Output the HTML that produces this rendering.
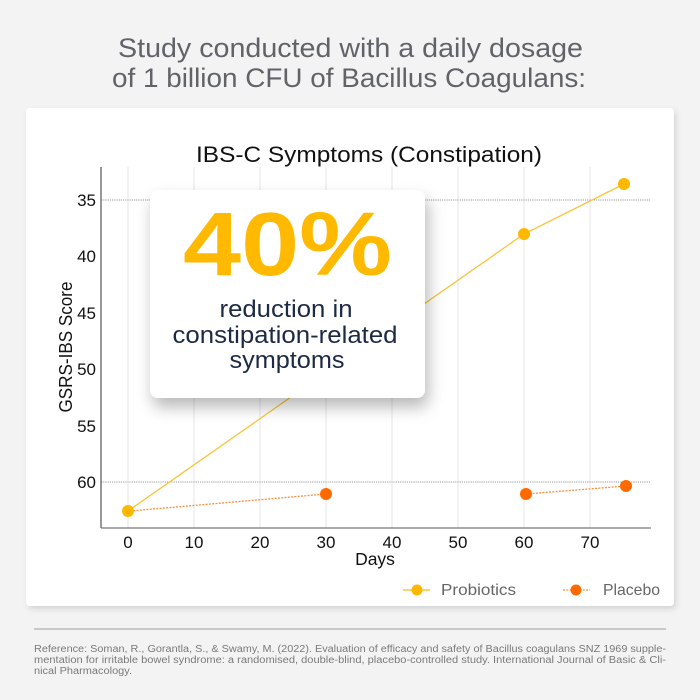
<!DOCTYPE html>
<html><head><meta charset="utf-8"><style>
html,body{margin:0;padding:0;background:#f3f3f3;}
svg{display:block;}
text{font-family:"Liberation Sans",sans-serif;}
</style></head><body>
<svg width="700" height="700" viewBox="0 0 700 700" xmlns="http://www.w3.org/2000/svg">
<defs>
<filter id="cs" x="-10%" y="-10%" width="120%" height="120%"><feDropShadow dx="2" dy="3" stdDeviation="3" flood-color="#000" flood-opacity="0.13"/></filter>
<filter id="bs" x="-20%" y="-20%" width="140%" height="150%"><feDropShadow dx="3" dy="9" stdDeviation="8" flood-color="#000" flood-opacity="0.28"/></filter>
</defs>
<rect width="700" height="700" fill="#f3f3f3"/>
<text x="118" y="57" font-size="27" fill="#606368" textLength="465" lengthAdjust="spacingAndGlyphs">Study conducted with a daily dosage</text>
<text x="112" y="87" font-size="27" fill="#606368" textLength="474" lengthAdjust="spacingAndGlyphs">of 1 billion CFU of Bacillus Coagulans:</text>
<rect x="26" y="108" width="648" height="498" rx="4" fill="#fff" filter="url(#cs)"/>
<text x="196" y="162" font-size="22" fill="#111" textLength="346" lengthAdjust="spacingAndGlyphs">IBS-C Symptoms (Constipation)</text>
<!-- gridlines -->
<g stroke="#e6e6e6" stroke-width="1">
<line x1="128" y1="167" x2="128" y2="528"/><line x1="194" y1="167" x2="194" y2="528"/>
<line x1="260" y1="167" x2="260" y2="528"/><line x1="326" y1="167" x2="326" y2="528"/>
<line x1="392" y1="167" x2="392" y2="528"/><line x1="458" y1="167" x2="458" y2="528"/>
<line x1="524" y1="167" x2="524" y2="528"/><line x1="590" y1="167" x2="590" y2="528"/>
</g>
<g stroke="#9a9a9a" stroke-width="1" stroke-dasharray="1.2 1">
<line x1="101" y1="200" x2="651" y2="200"/><line x1="101" y1="482" x2="651" y2="482"/>
</g>
<line x1="101" y1="167" x2="101" y2="528" stroke="#555" stroke-width="1.2"/>
<line x1="101" y1="528" x2="651" y2="528" stroke="#777" stroke-width="1.2"/>
<g font-size="17" fill="#111" text-anchor="end">
<text x="96" y="206">35</text><text x="96" y="262">40</text><text x="96" y="319">45</text>
<text x="96" y="375">50</text><text x="96" y="432">55</text><text x="96" y="488">60</text>
</g>
<g font-size="17" fill="#111" text-anchor="middle">
<text x="128" y="548">0</text><text x="194" y="548">10</text><text x="260" y="548">20</text>
<text x="326" y="548">30</text><text x="392" y="548">40</text><text x="458" y="548">50</text>
<text x="524" y="548">60</text><text x="590" y="548">70</text>
<text x="375" y="565" font-size="17.5">Days</text>
</g>
<text transform="translate(72,347) rotate(-90)" text-anchor="middle" font-size="18" fill="#111" textLength="131" lengthAdjust="spacingAndGlyphs">GSRS-IBS Score</text>
<!-- placebo -->
<g stroke="#f7903f" stroke-width="1.3" stroke-dasharray="2 1.3" fill="none">
<line x1="130" y1="511" x2="326" y2="494"/><line x1="526" y1="494" x2="626" y2="486"/>
</g>
<g fill="#ff6a00">
<circle cx="326" cy="494" r="6"/><circle cx="526" cy="494" r="6"/><circle cx="626" cy="486" r="6"/>
</g>
<!-- probiotics -->
<polyline points="128,511 524,234 624,184" fill="none" stroke="#f8c53a" stroke-width="1.3"/>
<g fill="#ffb800">
<circle cx="128" cy="511" r="6"/><circle cx="524" cy="234" r="6"/><circle cx="624" cy="184" r="6"/>
</g>
<!-- callout -->
<rect x="150" y="190" width="275" height="208" rx="8" fill="#fff" filter="url(#bs)"/>
<text x="183" y="275" font-size="90" font-weight="bold" fill="#ffb900" textLength="209" lengthAdjust="spacingAndGlyphs">40%</text>
<g font-size="24" fill="#1d2a44" text-anchor="middle">
<text x="286" y="317" textLength="133" lengthAdjust="spacingAndGlyphs">reduction in</text>
<text x="285" y="343" textLength="225" lengthAdjust="spacingAndGlyphs">constipation-related</text>
<text x="287" y="368" textLength="115" lengthAdjust="spacingAndGlyphs">symptoms</text>
</g>
<!-- legend -->
<line x1="403" y1="590" x2="430" y2="590" stroke="#f8c53a" stroke-width="1.5"/>
<circle cx="417" cy="590" r="5.5" fill="#ffb800"/>
<text x="441" y="595" font-size="16" fill="#666" textLength="75" lengthAdjust="spacingAndGlyphs">Probiotics</text>
<line x1="563" y1="590" x2="590" y2="590" stroke="#f7903f" stroke-width="1.3" stroke-dasharray="2 1.3"/>
<circle cx="576" cy="590" r="5.5" fill="#ff6a00"/>
<text x="603" y="595" font-size="16" fill="#666" textLength="57" lengthAdjust="spacingAndGlyphs">Placebo</text>
<!-- footer -->
<line x1="34" y1="629" x2="666" y2="629" stroke="#c9c9c9" stroke-width="2"/>
<g font-size="10" fill="#7a7a7a">
<text x="34" y="652" textLength="632" lengthAdjust="spacingAndGlyphs">Reference: Soman, R., Gorantla, S., &amp; Swamy, M. (2022). Evaluation of efficacy and safety of Bacillus coagulans SNZ 1969 supple-</text>
<text x="34" y="663" textLength="632" lengthAdjust="spacingAndGlyphs">mentation for irritable bowel syndrome: a randomised, double-blind, placebo-controlled study. International Journal of Basic &amp; Cli-</text>
<text x="34" y="674" textLength="98" lengthAdjust="spacingAndGlyphs">nical Pharmacology.</text>
</g>
</svg>
</body></html>
